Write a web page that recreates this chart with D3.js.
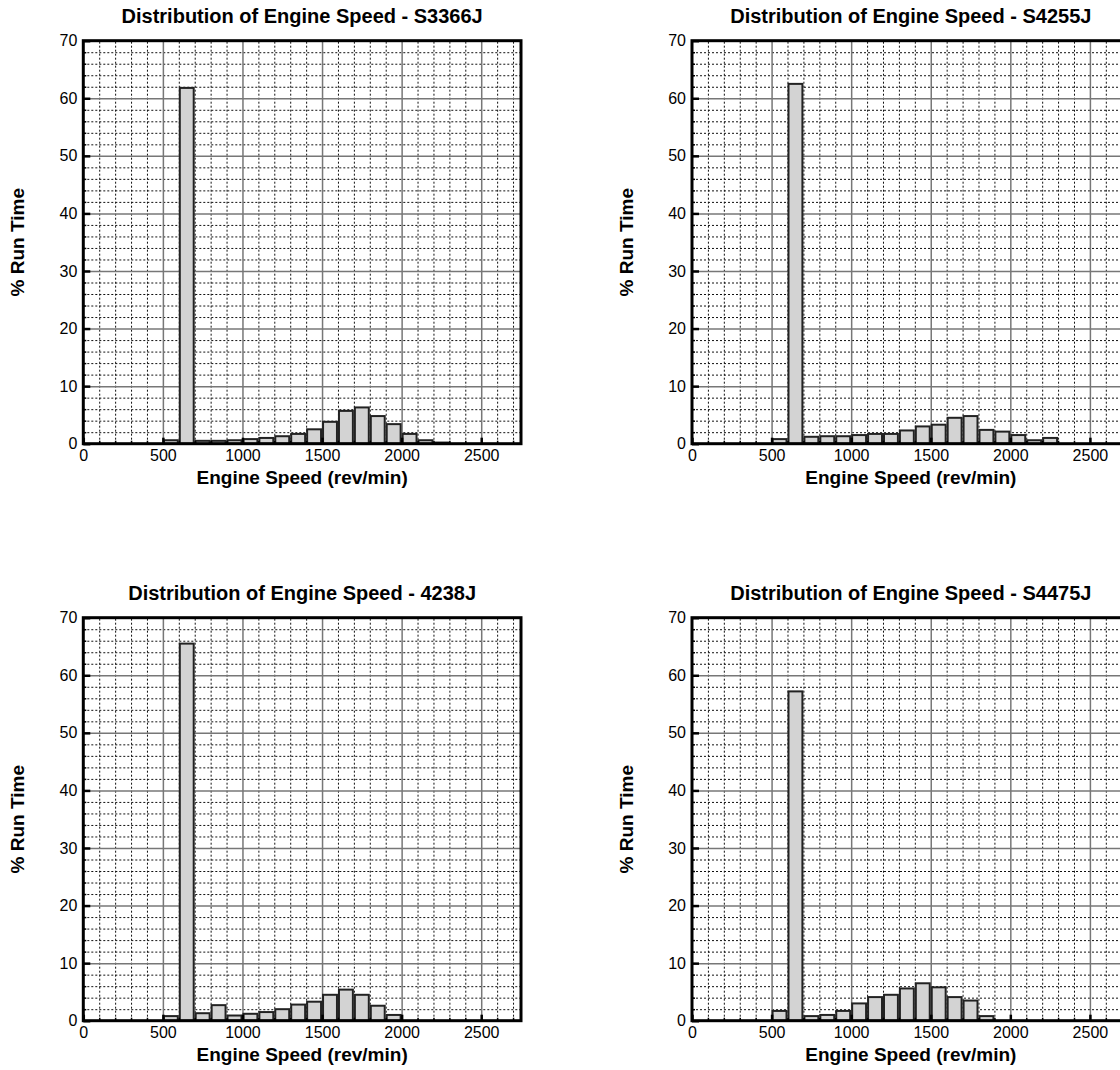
<!DOCTYPE html>
<html>
<head>
<meta charset="utf-8">
<script src="https://cdn.jsdelivr.net/npm/d3@7"></script>
<style>
  html, body { margin: 0; padding: 0; background: #fff; }
  svg { display: block; font-family: "Liberation Sans", Arial, Helvetica, sans-serif; }
</style>
</head>
<body>
<svg id="chart" width="1120" height="1070"></svg>
<script>
// ---- Data ----
const titles = [
  "Distribution of Engine Speed - S3366J",
  "Distribution of Engine Speed - S4255J",
  "Distribution of Engine Speed - 4238J",
  "Distribution of Engine Speed - S4475J"
];
// bin start speeds (rev/min), bins are 100 rev/min wide
const binStarts = [500, 600, 700, 800, 900, 1000, 1100, 1200, 1300, 1400, 1500, 1600, 1700, 1800, 1900, 2000, 2100, 2200];
const valuesS3366J = [0.6, 61.8, 0.5, 0.5, 0.6, 0.8, 1.0, 1.3, 1.7, 2.5, 3.8, 5.7, 6.3, 4.8, 3.4, 1.7, 0.6, 0.2];
const valuesS4255J = [0.8, 62.5, 1.2, 1.3, 1.3, 1.5, 1.7, 1.7, 2.3, 3.0, 3.3, 4.5, 4.8, 2.4, 2.1, 1.5, 0.6, 1.0];
const values4238J  = [0.8, 65.5, 1.3, 2.7, 0.9, 1.2, 1.5, 2.0, 2.8, 3.3, 4.5, 5.4, 4.5, 2.6, 1.0];
const valuesS4475J = [1.7, 57.2, 0.8, 1.0, 1.7, 3.0, 4.1, 4.5, 5.6, 6.5, 5.8, 4.1, 3.5, 0.8];
const seriesValues = [valuesS3366J, valuesS4255J, values4238J, valuesS4475J];

const xTickValues = [0, 500, 1000, 1500, 2000, 2500];
const yTickValues = [0, 10, 20, 30, 40, 50, 60, 70];
const xLabel = "Engine Speed (rev/min)";
const yLabel = "% Run Time";
const xDomain = [0, 2750];
const yDomain = [0, 70];
const binWidth = 100;

// ---- Layout ----
const plotW = 437.7, plotH = 403;
const origins = [
  { left: 83.3, top: 40.7 },
  { left: 692, top: 40.7 },
  { left: 83.3, top: 617.7 },
  { left: 692, top: 617.7 }
];

const svg = d3.select("#chart");
svg.append("rect").attr("width", 1120).attr("height", 1070).attr("fill", "#fff");

const x = d3.scaleLinear().domain(xDomain).range([0, plotW]);
const y = d3.scaleLinear().domain(yDomain).range([plotH, 0]);

const minorX = d3.range(100, xDomain[1], 100).filter(v => v % 500 !== 0);
const majorX = d3.range(500, xDomain[1], 500);
const minorY = d3.range(2, yDomain[1], 2).filter(v => v % 10 !== 0);
const majorY = d3.range(10, yDomain[1], 10);

titles.forEach((title, i) => {
  const o = origins[i];
  const g = svg.append("g").attr("transform", `translate(${o.left},${o.top})`);

  // minor dotted grid
  const gMinX = g.append("g").attr("transform", `translate(0,${plotH})`)
    .call(d3.axisBottom(x).tickValues(minorX).tickSize(-plotH).tickFormat(""));
  const gMinY = g.append("g")
    .call(d3.axisLeft(y).tickValues(minorY).tickSize(-plotW).tickFormat(""));
  [gMinX, gMinY].forEach(a => {
    a.select(".domain").remove();
    a.selectAll("line").attr("stroke", "#111").attr("stroke-width", 1).attr("stroke-dasharray", "2,2");
  });

  // major solid grid
  const gMajX = g.append("g").attr("transform", `translate(0,${plotH})`)
    .call(d3.axisBottom(x).tickValues(majorX).tickSize(-plotH).tickFormat(""));
  const gMajY = g.append("g")
    .call(d3.axisLeft(y).tickValues(majorY).tickSize(-plotW).tickFormat(""));
  [gMajX, gMajY].forEach(a => {
    a.select(".domain").remove();
    a.selectAll("line").attr("stroke", "#777").attr("stroke-width", 1.5);
  });

  // bars
  const vals = seriesValues[i];
  g.append("g").selectAll("rect")
    .data(vals.map((v, k) => ({ start: binStarts[k], v })))
    .join("rect")
    .attr("x", d => x(d.start) + 1)
    .attr("width", d => x(d.start + binWidth) - x(d.start) - 2)
    .attr("y", d => y(d.v))
    .attr("height", d => y(0) - y(d.v))
    .attr("fill", "#d3d3d3")
    .attr("stroke", "#222")
    .attr("stroke-width", 2);

  // minor inward ticks
  const tMinX = g.append("g").attr("transform", `translate(0,${plotH})`)
    .call(d3.axisBottom(x).tickValues(minorX).tickSize(-3).tickFormat(""));
  const tMinY = g.append("g")
    .call(d3.axisLeft(y).tickValues(minorY).tickSize(-3).tickFormat(""));
  [tMinX, tMinY].forEach(a => {
    a.select(".domain").remove();
    a.selectAll("line").attr("stroke", "#000").attr("stroke-width", 1.5);
  });

  // major axes with labels
  const ax = g.append("g").attr("transform", `translate(0,${plotH})`)
    .call(d3.axisBottom(x).tickValues(xTickValues).tickSize(-6).tickPadding(6).tickFormat(d3.format("d")));
  const ay = g.append("g")
    .call(d3.axisLeft(y).tickValues(yTickValues).tickSize(-7).tickPadding(6).tickFormat(d3.format("d")));
  [ax, ay].forEach(a => {
    a.select(".domain").remove();
    a.selectAll("line").attr("stroke", "#000").attr("stroke-width", 2.5);
    a.selectAll("text").attr("fill", "#000").style("font-size", "16px")
      .style("font-family", "'Liberation Sans', Arial, sans-serif");
  });

  // frame
  g.append("rect").attr("x", 0).attr("y", 0).attr("width", plotW).attr("height", plotH)
    .attr("fill", "none").attr("stroke", "#000").attr("stroke-width", 3);

  // title
  g.append("text").attr("x", plotW / 2).attr("y", -18)
    .attr("text-anchor", "middle").style("font-size", "20px").style("font-weight", "bold")
    .text(title);
  // x label
  g.append("text").attr("x", plotW / 2).attr("y", plotH + 40.5)
    .attr("text-anchor", "middle").style("font-size", "19px").style("font-weight", "bold")
    .text(xLabel);
  // y label
  g.append("text").attr("transform", `translate(-59,${plotH / 2}) rotate(-90)`)
    .attr("text-anchor", "middle").style("font-size", "19px").style("font-weight", "bold")
    .text(yLabel);
});
</script>
</body>
</html>
